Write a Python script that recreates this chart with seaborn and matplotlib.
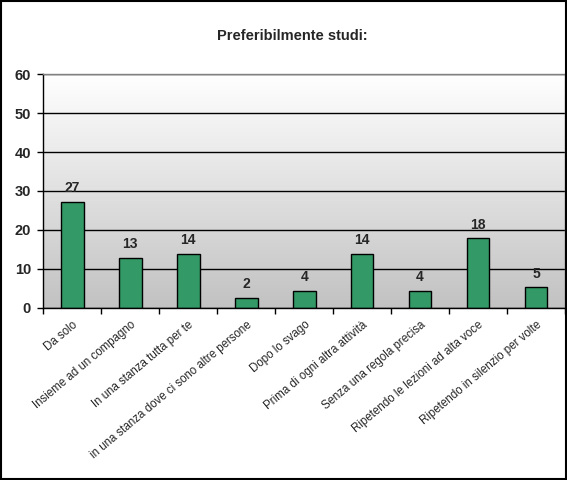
import numpy as np
import seaborn as sns
import matplotlib.pyplot as plt
from matplotlib.colors import LinearSegmentedColormap
from matplotlib.patches import Rectangle

# Values (labels shown rounded)
categories = [
    "Da solo",
    "Insieme ad un compagno",
    "In una stanza tutta per te",
    "in una stanza dove ci sono altre persone",
    "Dopo lo svago",
    "Prima di ogni altra attività",
    "Senza una regola precisa",
    "Ripetendo le lezioni ad alta voce",
    "Ripetendo in silenzio per volte",
]
values = [27.3, 12.7, 13.7, 2.4, 4.3, 13.7, 4.3, 17.8, 5.2]
y_ticks = [0, 10, 20, 30, 40, 50, 60]
title = "Preferibilmente studi:"

sns.set_style("white")
plt.rcParams['font.family'] = ['Liberation Sans', 'DejaVu Sans']

fig = plt.figure(figsize=(5.67, 4.8), dpi=100)
ax = fig.add_axes([43.4 / 567, 1 - 307.7 / 480, (565 - 43.4) / 567, (307.7 - 74.3) / 480])

# gradient background, white at top to grey at the bottom
cmap = LinearSegmentedColormap.from_list("bg", ["#ffffff", "#c2c2c2"])
n = len(categories)
ax.imshow(np.linspace(0, 1, 256).reshape(-1, 1), cmap=cmap, aspect='auto',
          extent=[-0.5, n - 0.5, 0, 60], zorder=0)

sns.barplot(x=categories, y=values, color="#339966", saturation=1,
            edgecolor="black", linewidth=1, width=0.39, ax=ax, zorder=2)

ax.set_xlim(-0.5, n - 0.5)
ax.set_ylim(0, 60)
ax.set_yticks(y_ticks)
ax.yaxis.grid(True, color="black", linewidth=1, zorder=1)
ax.set_axisbelow(True)

for c in ax.containers:
    ax.bar_label(c, fmt="%.0f", padding=5, fontsize=10, fontweight="bold")

ax.set_xticks(range(n))
ax.set_xticklabels(categories, rotation=40, ha="right", rotation_mode="anchor", fontsize=8.3)
ax.set_xticks(np.arange(-0.5, n, 1), minor=True)
ax.tick_params(axis="x", which="major", length=0, pad=8)
ax.tick_params(axis="x", which="minor", length=4, width=1, color="black", direction="out", bottom=True)
ax.tick_params(axis="y", length=4, width=1, color="black", direction="out", left=True, labelsize=10.5, pad=5)
for lab in ax.get_yticklabels():
    lab.set_fontweight("bold")

ax.set_xlabel("")
ax.set_ylabel("")
for side in ["left", "bottom"]:
    ax.spines[side].set_color("black")
    ax.spines[side].set_linewidth(1)
for side in ["top", "right"]:
    ax.spines[side].set_color("#808080")
    ax.spines[side].set_linewidth(1)

fig.text(292 / 567, 1 - 36 / 480, title, ha="center", va="center",
         fontsize=10.5, fontweight="bold")

fig.patches.append(Rectangle((0.002, 0.002), 0.996, 0.996, transform=fig.transFigure,
                             fill=False, edgecolor="black", linewidth=1.5))

fig.savefig("out.png", dpi=100, facecolor="white")
